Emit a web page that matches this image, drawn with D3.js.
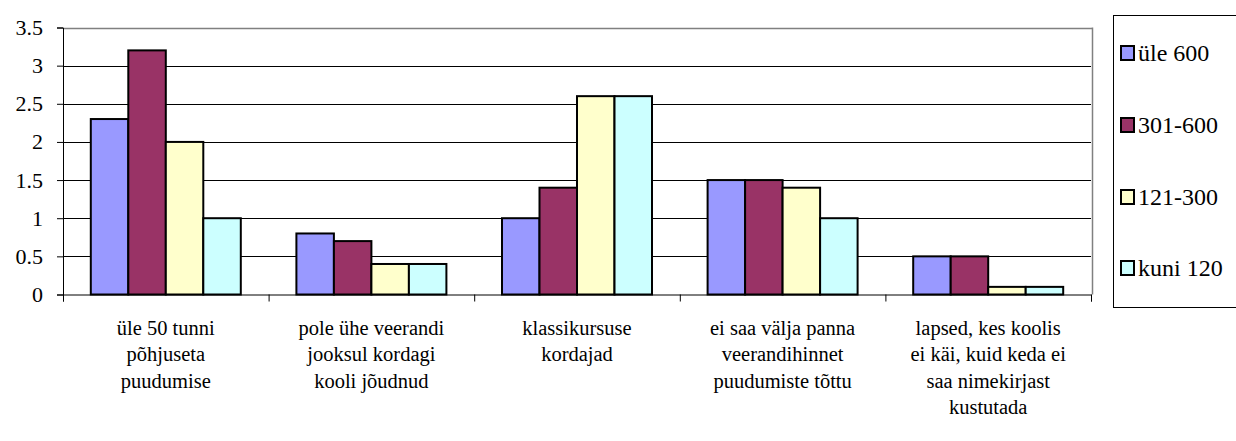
<!DOCTYPE html>
<html><head><meta charset="utf-8">
<script src="https://cdn.jsdelivr.net/npm/d3@7"></script>
<style>body{margin:0;background:#fff}</style>
</head><body>
<svg id="c" width="1236" height="441"></svg>
<script>
const categories = [
  ["üle 50 tunni","põhjuseta","puudumise"],
  ["pole ühe veerandi","jooksul kordagi","kooli jõudnud"],
  ["klassikursuse","kordajad"],
  ["ei saa välja panna","veerandihinnet","puudumiste tõttu"],
  ["lapsed, kes koolis","ei käi, kuid keda ei","saa nimekirjast","kustutada"]
];
const seriesNames = ["üle 600","301-600","121-300","kuni 120"];
const seriesColors = ["#9999FF","#993366","#FFFFCC","#CCFFFF"];
const valsUle600 = [2.3, 0.8, 1.0, 1.5, 0.5];
const vals301_600 = [3.2, 0.7, 1.4, 1.5, 0.5];
const vals121_300 = [2.0, 0.4, 2.6, 1.4, 0.1];
const valsKuni120 = [1.0, 0.4, 2.6, 1.0, 0.1];
const series = [valsUle600, vals301_600, vals121_300, valsKuni120];
const yTicks = [0,0.5,1,1.5,2,2.5,3,3.5];

const svg = d3.select("#c");
const L=63, R=1091, T=27.5, B=294.5;
const x = d3.scaleBand().domain(d3.range(categories.length)).range([L,R]).paddingInner(0).paddingOuter(0);
const y = d3.scaleLinear().domain([0,3.5]).range([B,T]);
const bw = 37.5;
const gx = d3.scaleBand().domain(d3.range(4)).range([0,bw*4]);

function serif(sel, size){
  sel.style("font-family",'"Liberation Serif", "Times New Roman", serif',"important")
     .style("font-size",size+"px","important").attr("fill","#000");
}

// gridlines
svg.append("g").selectAll("line").data(yTicks.filter(t=>t>0 && t<3.5)).join("line")
  .attr("x1",L).attr("x2",R).attr("y1",d=>Math.round(y(d))+0.5).attr("y2",d=>Math.round(y(d))+0.5)
  .attr("stroke","#000").attr("stroke-width",1);
// plot border top/right grey
svg.append("line").attr("x1",L).attr("x2",R+1).attr("y1",Math.round(T)+0.5).attr("y2",Math.round(T)+0.5).attr("stroke","#808080").attr("stroke-width",1.5);
svg.append("line").attr("x1",R+1.5).attr("x2",R+1.5).attr("y1",T).attr("y2",B).attr("stroke","#808080").attr("stroke-width",1.5);

// bars
const groups = svg.append("g").selectAll("g").data(categories).join("g")
  .attr("transform",(d,i)=>`translate(${x(i)+(x.bandwidth()-bw*4)/2},0)`);
groups.selectAll("rect").data((d,i)=>series.map((s,j)=>({v:s[i],j}))).join("rect")
  .attr("x",d=>gx(d.j)).attr("width",gx.bandwidth())
  .attr("y",d=>y(d.v)).attr("height",d=>B-y(d.v))
  .attr("fill",d=>seriesColors[d.j]).attr("stroke","#000").attr("stroke-width",2);

// y axis
const yAxis = d3.axisLeft(y).tickValues(yTicks).tickSize(6).tickPadding(14).tickFormat(d=>String(d));
const ya = svg.append("g").attr("transform",`translate(${L},0)`).call(yAxis);
ya.select(".domain").attr("stroke","#000");
ya.selectAll("text").call(serif,22);
// x axis
const xAxisScale = d3.scaleLinear().domain([0,5]).range([L,R]);
const xa = svg.append("g").attr("transform",`translate(0,${B})`)
  .call(d3.axisBottom(xAxisScale).tickValues(d3.range(6)).tickSize(7).tickFormat(""));
xa.select(".domain").attr("stroke","#000");

// category labels
const lab = svg.append("g").selectAll("text").data(categories).join("text")
  .attr("text-anchor","middle").call(serif,20.5);
lab.each(function(lines,i){
  d3.select(this).selectAll("tspan").data(lines).join("tspan")
    .attr("x",x(i)+x.bandwidth()/2).attr("y",(d,k)=>335+k*26.3).text(d=>d)
    .call(serif,20.5);
});

// legend
svg.append("rect").attr("x",1113.5).attr("y",15.5).attr("width",140).attr("height",292)
  .attr("fill","#fff").attr("stroke","#000").attr("stroke-width",1);
const ly = [53,125,197,268];
const lg = svg.append("g").selectAll("g").data(seriesNames).join("g")
  .attr("transform",(d,i)=>`translate(1121,${ly[i]})`);
lg.append("rect").attr("x",0).attr("y",-7).attr("width",13).attr("height",14)
  .attr("fill",(d,i)=>seriesColors[i]).attr("stroke","#000").attr("stroke-width",2);
lg.append("text").attr("x",17).attr("y",8).call(serif,24).text(d=>d);
</script>
</body></html>
